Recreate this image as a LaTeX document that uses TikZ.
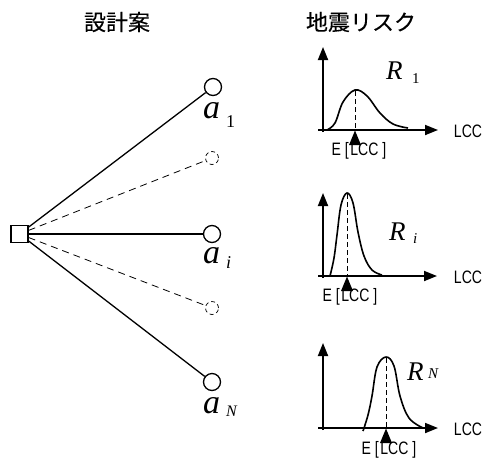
\documentclass[tikz,border=0pt]{standalone}
\usepackage{fontspec}
\setmainfont{Liberation Serif}
\newfontfamily\cjk[FakeBold=0.3]{Noto Sans CJK JP}
\newfontfamily\sansf{Liberation Sans}
\usetikzlibrary{arrows.meta,shapes.geometric}
\begin{document}
\begin{tikzpicture}[x=1pt,y=-1pt,
  alt/.style={circle,draw,line width=1.3pt,minimum size=17pt,inner sep=0pt},
  dalt/.style={circle,draw,line width=0.7pt,dash pattern=on 4pt off 3pt,minimum size=13pt,inner sep=0pt},
  root/.style={rectangle,draw,line width=1.3pt,minimum size=17pt,inner sep=0pt},
  branch/.style={line width=1.3pt},
  dbranch/.style={line width=0.8pt,dash pattern=on 7pt off 5pt},
  title/.style={font=\cjk\fontsize{22}{22}\selectfont,inner sep=0pt},
  axis/.style={line width=1.8pt,-{Triangle[length=13pt,width=10pt]}},
  curve/.style={line width=1.6pt,smooth,tension=0.6},
  peak/.style={line width=0.8pt,dash pattern=on 5pt off 3pt},
  emark/.style={fill=black,isosceles triangle,shape border rotate=90,minimum width=12pt,minimum height=8pt,inner sep=0pt,anchor=apex},
  lcc/.style={font=\sansf\fontsize{18}{18}\selectfont,xscale=0.78,inner sep=0pt},
  big/.style={font=\itshape\fontsize{34}{34}\selectfont,inner sep=0pt,anchor=base west},
  bigR/.style={font=\itshape\fontsize{27}{27}\selectfont,inner sep=0pt,anchor=base west},
  sub/.style={font=\fontsize{18}{18}\selectfont,inner sep=0pt,anchor=base west},
  rsub/.style={font=\fontsize{15}{15}\selectfont,inner sep=0pt,anchor=base west},
]
\useasboundingbox (0,0) rectangle (484,464);

% titles
\node[title] (t1) at (117,22) {設計案};
\node[title] (t2) at (361,22) {地震リスク};

% decision tree
\node[root] (r) at (19.5,234) {};
\node[alt] (a1) at (213,87) {};
\node[dalt] (d1) at (212,158) {};
\node[alt] (ai) at (212,234) {};
\node[dalt] (d2) at (212,308) {};
\node[alt] (aN) at (212,382) {};
\draw[branch] (r) -- (a1);
\draw[branch] (r) -- (ai);
\draw[branch] (r) -- (aN);
\draw[dbranch] (r) -- (d1);
\draw[dbranch] (r) -- (d2);

\node[big] (la1) at (203,118) {a};
\node[sub] (sa1) at (226,127) {1};
\node[big] (lai) at (203,263) {a};
\node[sub,font=\itshape\fontsize{18}{18}\selectfont] (sai) at (226,268) {i};
\node[big] (laN) at (203,413) {a};
\node[sub,font=\itshape\fontsize{16}{16}\selectfont] (saN) at (226,416) {N};

% chart 1
\draw[axis] (323,132) -- (323,47);
\draw[axis] (318,130) -- (438,130);
\draw[curve] plot coordinates {(327,130) (335,123) (343,102) (355,90) (367,96) (380,113) (393,124) (408,128)};
\draw[peak] (355,91) -- (355,130);
\node[emark] (m1) at (355,130) {};
\node[lcc] (x1) at (468,131) {LCC};
\node[lcc] (e1) at (359,151) {E\hspace{5pt}[\hspace{2pt}LCC\hspace{5pt}]};
\node[bigR] (R1) at (386,79) {R};
\node[rsub] (sR1) at (412,83) {1};

% chart i
\draw[axis] (323,278) -- (323,193);
\draw[axis] (318,276) -- (437,276);
\draw[curve] plot coordinates {(330,276) (334,258) (337,235) (341,205) (347,193) (353,203) (358,232) (364,256) (372,270) (382,275)};
\draw[peak] (347,194) -- (347,276);
\node[emark] (mi) at (347,276) {};
\node[lcc] (xi) at (468,277) {LCC};
\node[lcc] (ei) at (350,297) {E\hspace{5pt}[\hspace{2pt}LCC\hspace{5pt}]};
\node[bigR] (Ri) at (389,240) {R};
\node[rsub,font=\itshape\fontsize{15}{15}\selectfont] (sRi) at (413,243) {i};

% chart N
\draw[axis] (323,430) -- (323,343);
\draw[axis] (318,428) -- (438,428);
\draw[curve] plot coordinates {(363,431) (368,415) (372,396) (377,367) (386,357) (394,366) (400,396) (409,418) (423,428)};
\draw[peak] (386,358) -- (386,428);
\node[emark] (mN) at (386,428) {};
\node[lcc] (xN) at (468,429) {LCC};
\node[lcc] (eN) at (389,450) {E\hspace{5pt}[\hspace{2pt}LCC\hspace{5pt}]};
\node[bigR] (RN) at (407,380) {R};
\node[rsub,font=\itshape\fontsize{15}{15}\selectfont] (sRN) at (428,378) {N};
\end{tikzpicture}
\end{document}
